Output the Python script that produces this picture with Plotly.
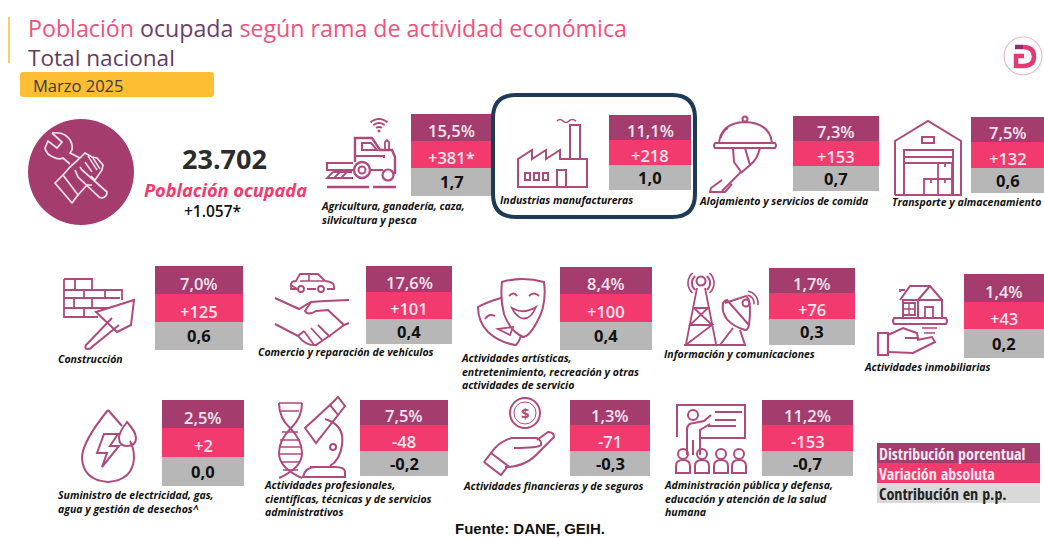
import math
import plotly.graph_objects as go

# ---- data ----
categorias = [
    "Agricultura, ganadería, caza,<br>silvicultura y pesca",
    "Industrias manufactureras",
    "Alojamiento y servicios de comida",
    "Transporte y almacenamiento",
    "Construcción",
    "Comercio y reparación de vehículos",
    "Actividades artísticas,<br>entretenimiento, recreación y otras<br>actividades de servicio",
    "Información y comunicaciones",
    "Actividades inmobiliarias",
    "Suministro de electricidad, gas,<br>agua y gestión de desechos^",
    "Actividades profesionales,<br>científicas, técnicas y de servicios<br>administrativos",
    "Actividades financieras y de seguros",
    "Administración pública y defensa,<br>educación y atención de la salud<br>humana",
]
distribucion = ["15,5%", "11,1%", "7,3%", "7,5%", "7,0%", "17,6%", "8,4%", "1,7%", "1,4%", "2,5%", "7,5%", "1,3%", "11,2%"]
variacion = ["+381*", "+218", "+153", "+132", "+125", "+101", "+100", "+76", "+43", "+2", "-48", "-71", "-153"]
contribucion = ["1,7", "1,0", "0,7", "0,6", "0,6", "0,4", "0,4", "0,3", "0,2", "0,0", "-0,2", "-0,3", "-0,7"]
leyenda = ["Distribución porcentual", "Variación absoluta", "Contribución en p.p."]
total = "23.702"
total_var = "+1.057*"

# ---- layout of the tiles: x0, x1, y0, y1, y2, y3 ----
tiles = [
    (411, 492, 114, 141, 168, 196), (609, 691, 115, 140, 165, 190), (793, 879, 116, 141, 166, 191),
    (971, 1044, 117, 142, 168, 193), (155, 243, 266, 294, 322, 350), (366, 452, 266, 292, 319, 344),
    (560, 652, 267, 294, 322, 350), (769, 855, 268, 293, 319, 345), (964, 1044, 274, 302, 329, 358),
    (162, 244, 400, 428, 457, 486), (360, 448, 400, 425, 451, 476), (570, 650, 400, 425, 451, 476),
    (762, 853, 400, 425, 451, 476),
]
label_pos = [(321, 199), (500, 193), (699, 194), (892, 195), (58, 352), (258, 345), (461, 351),
             (664, 347), (864, 360), (58, 488), (264, 478), (463, 479), (664, 478)]

PURPLE, PINK, GREY, ICON = "#A53C6E", "#F23A6E", "#B7B7B7", "#AE4A7C"
shapes, ann = [], []


def rect(x0, x1, y0, y1, color):
    shapes.append(dict(type="rect", x0=x0, x1=x1, y0=y0, y1=y1, fillcolor=color, line_width=0, layer="below"))


def text(x, y, s, size, color, anchor="center", family="Open Sans", valign="middle", weight=None):
    f = dict(size=size, color=color, family=family)
    if weight:
        f["weight"] = weight
    ann.append(dict(x=x, y=y, text=s, showarrow=False, xanchor=anchor, yanchor=valign,
                    align="left" if anchor == "left" else "center", font=f, borderpad=0, borderwidth=0))


def P(d, w=2.0, color=ICON, fill=None):
    s = dict(type="path", path=d, line=dict(color=color, width=w))
    if fill:
        s["fillcolor"] = fill
    shapes.append(s)


def circ(cx, cy, r, w=2.0, color=ICON, fill=None):
    s = dict(type="circle", x0=cx - r, x1=cx + r, y0=cy - r, y1=cy + r, line=dict(color=color, width=w))
    if fill:
        s["fillcolor"] = fill
    shapes.append(s)


def box(x0, y0, x1, y1, w=2.0):
    shapes.append(dict(type="rect", x0=x0, x1=x1, y0=y0, y1=y1, line=dict(color=ICON, width=w)))


def arc(cx, cy, r, a0, a1):
    pts = [(cx + r * math.cos(math.radians(a0 + (a1 - a0) * i / 10)), cy + r * math.sin(math.radians(a0 + (a1 - a0) * i / 10))) for i in range(11)]
    return "M" + " L".join(f"{x:.1f} {y:.1f}" for x, y in pts)


# tiles
for i, t in enumerate(tiles):
    x0, x1, y0, y1, y2, y3 = t
    rect(x0, x1, y0, y1, PURPLE)
    rect(x0, x1, y1, y2, PINK)
    rect(x0, x1, y2, y3, GREY)
    cx = (x0 + min(x1, 1044)) / 2
    text(cx, (y0 + y1) / 2 + 3, distribucion[i], 16.5, "#F4E6EE", weight=600)
    text(cx, (y1 + y2) / 2 + 3, variacion[i], 16.5, "#FBE6EC", weight=600)
    text(cx, (y2 + y3) / 2 - 0.5, contribucion[i], 16.5, "#111111", weight=700)
    text(label_pos[i][0], label_pos[i][1], f"<b><i>{categorias[i]}</i></b>", 10.5, "#111111", "left", valign="top")

# header
shapes.append(dict(type="line", x0=9, x1=9, y0=17, y1=63, line=dict(color="#FDCB66", width=2)))
text(28, 27.5, '<span style="color:#F4507E">Población</span> <span style="color:#6B3E6D">ocupada</span> '
     '<span style="color:#F4507E">según rama de actividad económica</span>', 23.2, PINK, "left")
text(28, 57.5, "Total nacional", 22.6, "#5F3C62", "left")
P("M23 72 H211 Q214 72 214 75 V94 Q214 97 211 97 H23 Q20 97 20 94 V75 Q20 72 23 72 Z", 0, "#FDBE33", "#FDBE33")
text(33, 85, "Marzo 2025", 16.5, "#3A3A3A", "left")

# total block
circ(81, 172, 53, 0, PURPLE, PURPLE)
W = "#F5E3EC"
P("M52 133 L62 142 L57 148 L48 141 L45 148 Q46 154 53 157 Q59 160 63 158 L70 164", 1.7, W)
P("M52 133 Q60 132 65 135 Q71 139 72 145 Q73 150 70 153 L80 158", 1.7, W)
P("M55 183 L63 175 L78 195 L72 203 Z", 1.7, W)
P("M63 175 L70 167 L80 158 L85 153 L92 157 L97 158 L103 165 L102 170 L95 180 L91 176", 1.7, W)
P("M88 156 L97 170 M93 158 L100 169 M85 162 L92 172", 1.4, W)
P("M78 195 L87 185 L92 185", 1.7, W)
P("M80 167 L82 170 L107 192 Q107 197 102 198 Q99 198 98 196 L78 177 L75 170", 1.7, W)
text(224, 158, total, 27, "#2B2B2B", weight=700)
text(225, 190, "<b><i>Población ocupada</i></b>", 18.2, "#F23A6E")
text(212, 211, total_var, 15.5, "#111111", weight=600)

# highlight box
P("M516 95 H672 Q695 95 695 118 V194 Q695 217 672 217 H516 Q493 217 493 194 V118 Q493 95 516 95 Z", 4, "#1D3A57")

# logo
circ(1023, 56, 19, 1.2, "#E9B9CC")
P("M1015 47 H1023", 4.5, "#8E2F6F")
P("M1023 47 Q1034 47 1034 56.5 Q1034 66 1023 66 H1016 V56 H1024", 4.5, "#E33A72")

# --- icons ---
# tractor / wifi
P(arc(379, 131, 4, 225, 315), 1.8); P(arc(379, 131, 8, 225, 315), 1.8); P(arc(379, 131, 12, 225, 315), 1.8)
circ(379, 131, 0.8, 1.5)
P("M355 162 V138 H372 L380 150 H392 L395 157 V173 L393 173", 2.4)
P("M362 143 H371 L377 150 H362 Z", 2)
P("M355 156 H384 V158 M371 170 H383", 2)
P("M385 150 V142 L387 140 L389 142 V150", 1.8)
circ(362, 170, 8, 2.4); circ(362, 170, 3.5, 2); circ(388, 175, 5.5, 2.2)
P("M353 163 H327 V170 H353 M340 163 H344", 2.2)
P("M353 178 H327 L333 172 M334 178 L340 172 M341 178 L347 172 M333 172 H352", 1.8)
P("M327 187 H369 M373 187 H396", 2.6)

# factory
P("M518 187 V159 L532 150 V159 L546 150 V159 L560 150 V159 H587 V187 Z")
P("M570 159 V125 H580 V159")
P("M557 121 Q560 118 563 121 Q566 124 569 121 Q572 118 576 121", 1.6)
for xx in (525, 534, 543):
    box(xx, 173, xx + 5, 180)
P("M557 187 V170 H566 V187")

# cloche
P("M719 143 Q721 123 745 122 Q770 123 772 143")
circ(745, 119, 2.5)
P("M715 143 H775 Q777 146 775 148 H715 Q713 146 715 143 Z")
P("M728 128 Q722 132 721 138", 1.6)
P("M733 148 L734 162 L741 172 L722 191 M745 148 L750 165 Q757 160 760 148 M750 165 L741 173")
P("M722 180 L711 188 L710 192 H725 L732 184", 2)

# warehouse
P("M895 195 V141 L928 121 L961 141 V195 H895 M904 195 V150 H953 V195")
P("M904 157 H953 M904 163 H953", 1.8)
box(922, 137, 934, 143)
P("M924 179 H938 V195 H924 Z M938 179 H952 V195 H938 Z M938 163 H952 V179 H938 Z M931 179 V183 M945 179 V183 M945 163 V167", 1.8)

# bricks
P("M64 279 H92 V290 H122 V300 M64 279 V317 H98 M64 290 H92 M64 298 H120 M64 308 H110", 1.8)
P("M75 279 V290 M84 290 V298 M105 290 V298 M74 298 V308 M92 298 V308 M84 308 V317", 1.8)
P("M96 312 L134 300 L131 325 L117 332 Z")
P("M112 318 L86 345 Q84 349 88 349 Q91 349 92 347 L119 325", 2)

# handshake + car
P("M291 285 Q291 281 296 281 L300 274 H318 L325 281 Q334 282 334 286 V289 H327 M316 289 H307 M297 289 H291 V285 Z", 1.8)
circ(301, 289, 3, 1.8); circ(321, 289, 3, 1.8)
P("M300 281 H324 M309 274 V281", 1.6)
P("M275 298 L299 309 L311 302 L325 301 L349 300 M311 302 L305 311 Q308 316 316 311 L328 310 L344 325 L349 323")
P("M275 324 L298 336 L304 331 M344 325 L332 334 L316 345 Q306 346 298 336")
P("M304 331 L314 345 M311 328 L322 340 M318 325 L330 337", 1.8)

# masks
P("M502 282 Q522 276 544 282 Q547 305 537 322 Q529 337 523 337 Q510 331 504 314 Q500 298 502 282 Z")
P("M509 296 Q514 291 517 296 M529 296 Q534 291 539 296", 1.8)
P("M512 308 Q523 315 536 307 Q530 321 521 318 Q515 315 512 308 Z", 1.8)
P("M501 298 Q487 302 478 307 Q478 322 488 332 Q500 343 516 345 Q519 342 521 336", 2)
P("M485 319 Q489 313 495 316", 1.8)
P("M498 329 L513 327 L510 335 Z", 1.8)

# tower + dish
circ(701, 281, 4.5)
P(arc(701, 283, 9, 130, 230)); P(arc(701, 283, 13, 130, 230), 1.6)
P(arc(701, 283, 9, -50, 50)); P(arc(701, 283, 13, -50, 50), 1.6)
P("M697 288 L686 344 M705 288 L716 344 M684 345 H733 M694 308 H708 L690 325 H712 L687 344 M694 308 L712 325", 1.8)
P("M723 303 Q720 322 745 330 Q748 330 749 325 L727 300 Q725 300 723 303 Z M725 303 L746 296 Q752 300 749 325")
P("M733 328 L720 345 M740 330 L745 345 H720")
circ(746, 303, 3.5); P(arc(746, 303, 8, -80, 10), 1.6); P(arc(746, 303, 12, -80, 10), 1.6)

# house in hand
P("M894 318 H946 Q948 321 946 324 H894 Q892 321 894 318 Z", 2)
P("M903 318 V300 H942 V318 M900 300 L910 286 H930 L942 300 M930 286 L918 300 M918 300 V318", 2)
box(903, 303, 915, 315, 1.8)
P("M909 303 V315 M903 309 H915", 1.4)
P("M925 318 V307 H933 V318", 1.8)
P("M900 292 V290 H905", 1.8)
box(878, 333, 888, 355, 2.2)
P("M888 335 L903 328 L917 333 L918 338 H905 M888 352 L913 353 L935 342 L932 337 L917 340", 2)
P("M922 328 H937 M924 333 H935", 1.5)

# drop with bolt
P("M108 410 Q82 442 82 458 Q83 480 108 482 Q133 480 134 458 Q134 448 130 441 M108 410 L122 426")
P("M127 422 Q136 432 136 438 Q136 446 127 446 Q119 446 119 438 Q119 432 127 422 Z")
P("M104 434 L118 434 L110 446 L119 446 L102 467 L107 453 L97 453 Z")

# DNA + microscope
P("M279 403 Q279 418 290 428 Q302 440 302 453 Q302 468 279 478 M302 403 Q302 418 291 428 Q279 440 279 453 Q279 468 302 478")
P("M279 403 H302 M281 411 H299 M282 432 H298 M280 440 H300 M280 447 H301 M280 454 H301 M281 462 H300 M283 470 H298", 1.5)
P("M305 428 L330 405 L338 415 L316 443 Z")
P("M330 405 L338 397 L345 406 L338 415")
P("M325 419 Q345 425 342 445 Q340 460 330 466 M303 477 H345 V472 Q345 467 335 467 H316 Q305 467 303 477 Z M310 467 H320")
circ(333, 447, 3)

# coin in hand
circ(525, 413, 15); circ(525, 413, 11, 1)
text(525, 413, "<b>$</b>", 15, ICON)
P("M484 462 L495 448 Q503 440 512 438 H537 Q542 441 541 445 Q538 448 514 448 M537 440 L548 432 Q554 432 554 437 L539 452 Q526 467 505 467", 2)
P("M484 462 L501 475 L508 466 L491 453", 2)

# teacher
P("M677 437 V405 H745 V438 H700")
P("M715 412 H742 M715 420 H736 M708 426 H736", 1.8)
circ(693, 415, 5)
P("M687 455 V430 Q687 423 694 423 L704 421 L711 415 M700 455 V430 L710 424 M693 440 V455", 2)
for xx in (683, 702, 721, 739):
    circ(xx, 454, 5)
    P(f"M{xx-7} 473 V466 Q{xx-7} 460 {xx} 460 Q{xx+7} 460 {xx+7} 466 V473 Z", 2)

# legend
rect(877, 1040, 443, 463, PURPLE)
rect(877, 1040, 463, 483, PINK)
rect(877, 1040, 483, 503, "#D9D9D9")
for s, y, c in zip(leyenda, (454, 474, 494), ("#F4E6EE", "#FBE6EC", "#222222")):
    text(879, y, f"<b>{s}</b>", 16, c, "left", family="Open Sans Condensed, Noto Sans")

# source
text(530, 528.5, "<b>Fuente: DANE, GEIH.</b>", 15, "#111111", family="Liberation Sans")

fig = go.Figure()
fig.update_layout(
    width=1044, height=538, margin=dict(l=0, r=0, t=0, b=0), autosize=False,
    paper_bgcolor="white", plot_bgcolor="white", showlegend=False,
    xaxis=dict(range=[0, 1044], visible=False, fixedrange=True),
    yaxis=dict(range=[538, 0], visible=False, fixedrange=True),
    shapes=shapes, annotations=ann,
)
fig.write_html("out.html", config=dict(displayModeBar=False),
               post_script="document.body.style.margin='0';document.body.style.overflow='hidden';")
